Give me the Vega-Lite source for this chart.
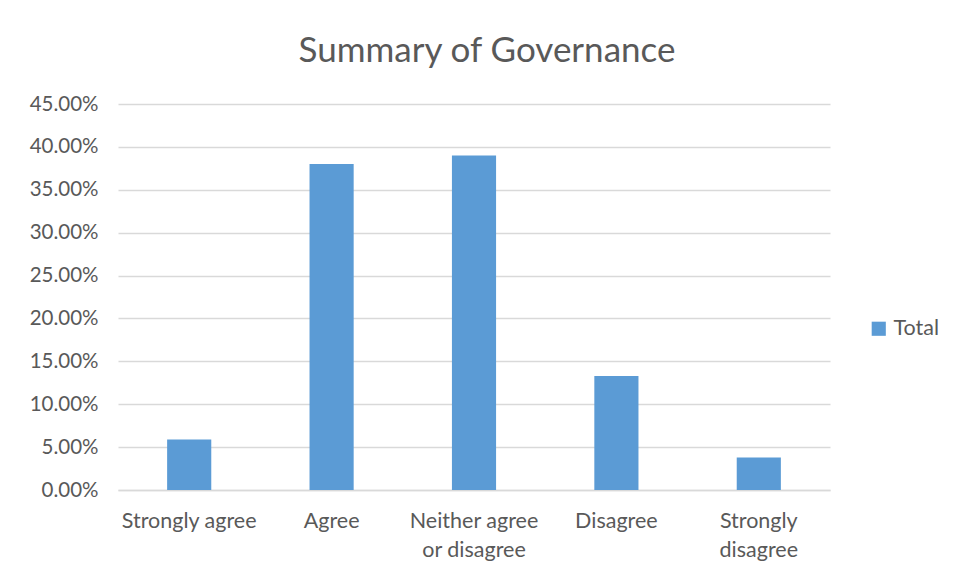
{
  "$schema": "https://vega.github.io/schema/vega-lite/v6.json",
  "width": 712,
  "height": 386,
  "autosize": {"type": "none"},
  "padding": {"left": 118, "top": 104, "right": 128, "bottom": 89},
  "background": "white",
  "title": {
    "text": "Summary of Governance",
    "font": "Lato",
    "fontSize": 35,
    "fontWeight": "normal",
    "color": "#595959",
    "anchor": "middle",
    "dx": 13,
    "offset": 25
  },
  "data": {
    "values": [
      {"response": "Strongly agree", "share": 0.059},
      {"response": "Agree", "share": 0.380},
      {"response": "Neither agree or disagree", "share": 0.390},
      {"response": "Disagree", "share": 0.133},
      {"response": "Strongly disagree", "share": 0.038}
    ]
  },
  "mark": {"type": "bar", "color": "#5B9BD5"},
  "encoding": {
    "x": {
      "field": "response",
      "type": "nominal",
      "sort": null,
      "title": null,
      "scale": {"paddingInner": 0.69, "paddingOuter": 0.345},
      "axis": {
        "labelAngle": 0,
        "labelFont": "Lato",
        "labelFontSize": 21.5,
        "labelColor": "#595959",
        "labelPadding": 20,
        "labelLineHeight": 29,
        "ticks": false,
        "domainColor": "#D9D9D9",
        "domainWidth": 1.5,
        "labelExpr": "datum.label == 'Neither agree or disagree' ? ['Neither agree', 'or disagree'] : datum.label == 'Strongly disagree' ? ['Strongly', 'disagree'] : datum.label"
      }
    },
    "y": {
      "field": "share",
      "type": "quantitative",
      "title": null,
      "scale": {"domain": [0, 0.45]},
      "axis": {
        "values": [0, 0.05, 0.1, 0.15, 0.2, 0.25, 0.3, 0.35, 0.4, 0.45],
        "format": ".2%",
        "labelFont": "Lato",
        "labelFontSize": 20.5,
        "labelColor": "#595959",
        "labelPadding": 20,
        "ticks": false,
        "domain": false,
        "gridColor": "#D9D9D9",
        "gridWidth": 1.5
      }
    },
    "color": {
      "datum": "Total",
      "type": "nominal",
      "scale": {"range": ["#5B9BD5"]},
      "legend": {
        "title": null,
        "orient": "none",
        "legendX": 750,
        "legendY": 214,
        "symbolType": "square",
        "symbolSize": 200,
        "symbolStrokeWidth": 0,
        "labelFont": "Lato",
        "labelFontSize": 21.5,
        "labelColor": "#595959",
        "labelOffset": 4
      }
    }
  },
  "config": {"view": {"stroke": null}}
}
